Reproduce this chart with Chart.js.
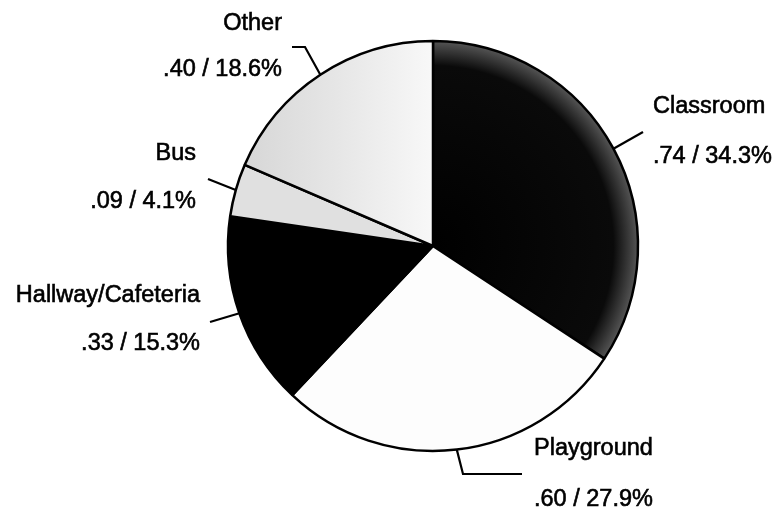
<!DOCTYPE html>
<html>
<head>
<meta charset="utf-8">
<script src="https://cdn.jsdelivr.net/npm/chart.js@4.4.0/dist/chart.umd.min.js"></script>
<style>
  html, body { margin: 0; padding: 0; background: #fff; }
  #wrap { width: 779px; height: 512px; }
</style>
</head>
<body>
<div id="wrap"><canvas id="pieChart" width="779" height="512"></canvas></div>
<script>
// chart data
var categories = ['Classroom', 'Playground', 'Hallway/Cafeteria', 'Bus', 'Other'];
var rates = [0.74, 0.60, 0.33, 0.09, 0.40];
var percents = [34.3, 27.9, 15.3, 4.1, 18.6];

// where each label sits and how its leader line bends (after leaving the slice edge)
var labelLayout = [
    { align: 'left',  x: 653, y: [113, 163], bend: [[643, 132]] },
    { align: 'left',  x: 534, y: [455, 506], bend: [[463, 474], [522, 474]] },
    { align: 'right', x: 200, y: [302, 350], bend: [[210, 322]] },
    { align: 'right', x: 196, y: [160, 208], bend: [[208, 179]] },
    { align: 'right', x: 282, y: [30, 76],   bend: [[305, 47], [292, 47]] }
];

function fmtRate(v) {
    return v.toFixed(2).replace(/^0/, '');
}

var labelPlugin = {
    id: 'pieLabels',
    afterDatasetsDraw: function(chart) {
        var ctx = chart.ctx;
        var arcs = chart.getDatasetMeta(0).data;
        ctx.save();
        ctx.strokeStyle = '#000';
        ctx.fillStyle = '#000';
        ctx.font = '23.5px "Liberation Sans", Arial, sans-serif';
        ctx.textBaseline = 'alphabetic';
        arcs.forEach(function(arc, i) {
            var p = arc.getProps(['x', 'y', 'startAngle', 'endAngle', 'outerRadius'], true);
            var mid = (p.startAngle + p.endAngle) / 2;
            var sx = p.x + Math.cos(mid) * p.outerRadius;
            var sy = p.y + Math.sin(mid) * p.outerRadius;
            var lay = labelLayout[i];
            ctx.lineWidth = 2.2;
            ctx.beginPath();
            ctx.moveTo(sx, sy);
            lay.bend.forEach(function(pt) { ctx.lineTo(pt[0], pt[1]); });
            ctx.stroke();
            // scanned print looks a bit heavier, so outline the glyphs slightly
            ctx.lineWidth = 0.6;
            ctx.textAlign = lay.align;
            var line2 = fmtRate(rates[i]) + ' / ' + percents[i].toFixed(1) + '%';
            ctx.fillText(categories[i], lay.x, lay.y[0]);
            ctx.strokeText(categories[i], lay.x, lay.y[0]);
            ctx.fillText(line2, lay.x, lay.y[1]);
            ctx.strokeText(line2, lay.x, lay.y[1]);
        });
        ctx.restore();
    }
};

var ctx = document.getElementById('pieChart').getContext('2d');

// classroom slice is black fading to a grey rim like the scanned original
var classroomFill = ctx.createRadialGradient(433, 246, 0, 433, 246, 205);
classroomFill.addColorStop(0, '#000');
classroomFill.addColorStop(0.88, '#0a0a0a');
classroomFill.addColorStop(1, '#555');

// "other" slice is speckled grey on its left side, nearly white on the right
var otherFill = ctx.createLinearGradient(240, 0, 433, 0);
otherFill.addColorStop(0, '#d6d6d6');
otherFill.addColorStop(0.5, '#e6e6e6');
otherFill.addColorStop(1, '#f8f8f8');

var pieChart = new Chart(ctx, {
    type: 'pie',
    data: {
        labels: categories,
        datasets: [{
            data: rates,
            backgroundColor: [classroomFill, '#fdfdfd', '#000000', '#e0e0e0', otherFill],
            borderColor: '#000',
            borderWidth: 2.5,
            hoverOffset: 0
        }]
    },
    options: {
        responsive: false,
        animation: false,
        events: [],
        radius: 205,
        layout: {
            padding: { left: 100, right: 13, top: 0, bottom: 20 }
        },
        plugins: {
            legend: { display: false },
            tooltip: { enabled: false }
        }
    },
    plugins: [labelPlugin]
});
</script>
</body>
</html>
